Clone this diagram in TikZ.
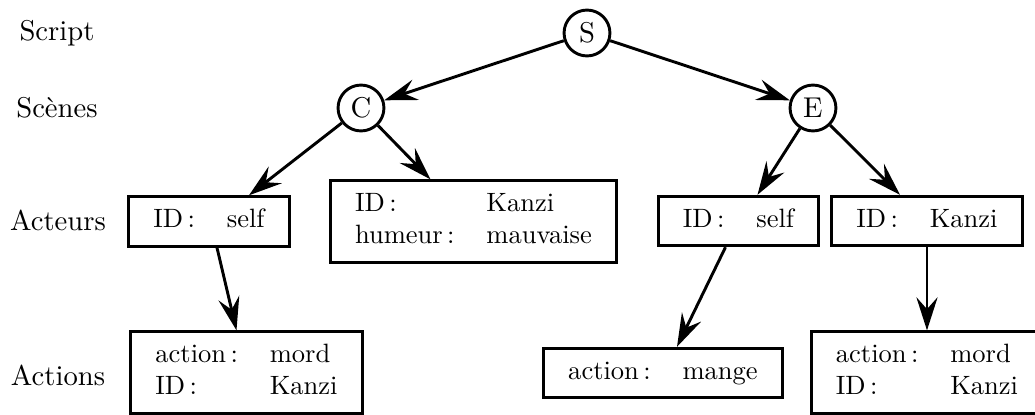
\documentclass[tikz,border=0pt]{standalone}
\usepackage{fontspec}
\usetikzlibrary{arrows.meta}
\begin{document}
\begin{tikzpicture}[x=0.377pt,y=-0.377pt,
  every node/.style={font=\fontsize{10}{12}\selectfont},
  circ/.style={draw,circle,line width=1.1pt,minimum size=17.3pt,inner sep=0pt,font=\fontsize{10.8}{13}\selectfont},
  boxn/.style={draw,line width=1.1pt,inner sep=3.33pt},
  lev/.style={anchor=base,font=\fontsize{10.8}{13}\selectfont},
  arr/.style={line width=1.1pt,-{Stealth[length=12.5pt,width=8pt,inset=4.5pt]}}]
\useasboundingbox (0,0) rectangle (1035,415);
% level labels
\node[lev] (l1) at (57,40) {Script};
\node[lev] (l2) at (57,117) {Scènes};
\node[lev] (l3) at (58,230) {Acteurs};
\node[lev] (l4) at (58,385) {Actions};
% circles
\node[circ] (S) at (587,33) {S};
\node[circ] (C) at (361,108) {C};
\node[circ] (E) at (813,108) {E};
% actors
\node[boxn] (a1) at (209,221.5) {\begin{tabular}{ll}ID\,: & self\end{tabular}};
\node[boxn] (a2) at (473.5,221.5) {\begin{tabular}{ll}ID\,: & Kanzi\\ humeur\,: & mauvaise\end{tabular}};
\node[boxn] (a3) at (738.5,221) {\begin{tabular}{ll}ID\,: & self\end{tabular}};
\node[boxn] (a4) at (927,221) {\begin{tabular}{ll}ID\,: & Kanzi\end{tabular}};
% actions
\node[boxn] (b1) at (246.5,372.5) {\begin{tabular}{ll}action\,: & mord\\ ID\,: & Kanzi\end{tabular}};
\node[boxn] (b2) at (663,373) {\begin{tabular}{ll}action\,: & mange\end{tabular}};
\node[boxn] (b3) at (927,372.5) {\begin{tabular}{ll}action\,: & mord\\ ID\,: & Kanzi\end{tabular}};
% arrows
\draw[arr] (S) -- (C);
\draw[arr] (S) -- (E);
\draw[arr] (C) -- ([shift={(40,0)}]a1.north);
\draw[arr] (C) -- ([shift={(-43,0)}]a2.north);
\draw[arr] (E) -- ([shift={(19,0)}]a3.north);
\draw[arr] (E) -- ([shift={(-27,0)}]a4.north);
\draw[arr] ([shift={(8,0)}]a1.south) -- ([shift={(-10,0)}]b1.north);
\draw[arr] ([shift={(-13,0)}]a3.south) -- ([shift={(14,0)}]b2.north);
\draw[arr] (a4.south) -- (a4.south |- b3.north);
\end{tikzpicture}
\end{document}
